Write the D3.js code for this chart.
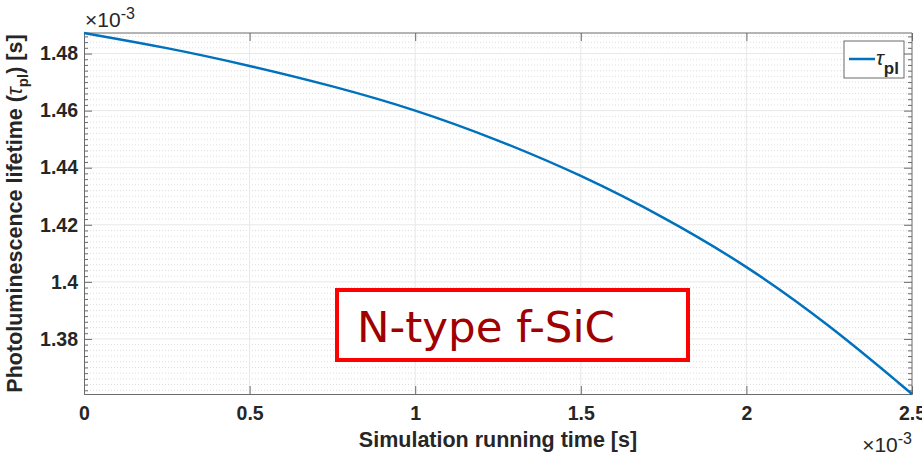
<!DOCTYPE html>
<html>
<head>
<meta charset="utf-8">
<script src="https://cdn.jsdelivr.net/npm/d3@7"></script>
<style>
  html, body { margin: 0; padding: 0; background: #fff; }
  svg { display: block; }
  .tick-label { font-family: "Liberation Sans", Arial, sans-serif; font-weight: bold; font-size: 19.5px; fill: #262626; }
  .axis-title { font-family: "Liberation Sans", Arial, sans-serif; font-weight: bold; font-size: 21.5px; fill: #262626; }
  .expo { font-family: "Liberation Sans", Arial, sans-serif; font-size: 21px; fill: #262626; }
</style>
</head>
<body>
<svg id="chart" width="922" height="455"></svg>
<script>
// simulation time, in units of 1e-3 s
const timeVals = [0, 0.25, 0.5, 0.75, 1.0, 1.25, 1.5, 1.75, 2.0, 2.25, 2.5];
// photoluminescence lifetime tau_pl, in units of 1e-3 s
const tauVals = [1.4872, 1.4821, 1.4758, 1.4687, 1.4604, 1.4498, 1.4375, 1.4228, 1.4058, 1.3850, 1.3607];

const xTicks = [0, 0.5, 1, 1.5, 2, 2.5];
const xTickLabels = ["0", "0.5", "1", "1.5", "2", "2.5"];
const yTicks = [1.38, 1.40, 1.42, 1.44, 1.46, 1.48];
const yTickLabels = ["1.38", "1.4", "1.42", "1.44", "1.46", "1.48"];

const svg = d3.select("#chart");
const L = 84, R = 912, T = 33, B = 394;

const x = d3.scaleLinear().domain([0, 2.5]).range([L, R]);
const y = d3.scaleLinear().domain([d3.min(tauVals), d3.max(tauVals)]).range([B, T]);

// minor grid (y only, dotted)
const yMinor = d3.range(1.362, 1.4872, 0.002).filter(v => !yTicks.some(t => Math.abs(t - v) < 1e-6));
svg.append("g").selectAll("line").data(yMinor).enter().append("line")
    .attr("x1", L).attr("x2", R)
    .attr("y1", d => y(d)).attr("y2", d => y(d))
    .attr("stroke", "#dedede").attr("stroke-width", 1)
    .attr("stroke-dasharray", "1,2");

// major grid
svg.append("g").selectAll("line").data(yTicks).enter().append("line")
    .attr("x1", L).attr("x2", R)
    .attr("y1", d => y(d)).attr("y2", d => y(d))
    .attr("stroke", "#e8e8e8").attr("stroke-width", 1);
svg.append("g").selectAll("line").data(xTicks.slice(1, -1)).enter().append("line")
    .attr("y1", T).attr("y2", B)
    .attr("x1", d => x(d)).attr("x2", d => x(d))
    .attr("stroke", "#e8e8e8").attr("stroke-width", 1);

// axes, ticks pointing inward
const axisColor = "#6b6b6b";
const xAxis = svg.append("g").attr("transform", `translate(0,${B})`)
    .call(d3.axisBottom(x).tickValues(xTicks).tickSize(-8).tickFormat((d, i) => xTickLabels[i]));
const xAxisTop = svg.append("g").attr("transform", `translate(0,${T})`)
    .call(d3.axisTop(x).tickValues(xTicks).tickSize(-8).tickFormat(""));
const yAxis = svg.append("g").attr("transform", `translate(${L},0)`)
    .call(d3.axisLeft(y).tickValues(yTicks).tickSize(-8).tickFormat((d, i) => yTickLabels[i]));
const yAxisRight = svg.append("g").attr("transform", `translate(${R},0)`)
    .call(d3.axisRight(y).tickValues(yTicks).tickSize(-8).tickFormat(""));
const yMinorL = svg.append("g").attr("transform", `translate(${L},0)`)
    .call(d3.axisLeft(y).tickValues(yMinor).tickSize(-4).tickFormat(""));
const yMinorR = svg.append("g").attr("transform", `translate(${R},0)`)
    .call(d3.axisRight(y).tickValues(yMinor).tickSize(-4).tickFormat(""));

[xAxis, xAxisTop, yAxis, yAxisRight, yMinorL, yMinorR].forEach(a => {
    a.select(".domain").attr("stroke", axisColor).attr("stroke-width", 1);
    a.selectAll(".tick line").attr("stroke", axisColor);
    a.selectAll(".tick text").attr("class", "tick-label").attr("font-family", null).attr("font-size", null);
});
[yMinorL, yMinorR, xAxisTop, yAxisRight].forEach(a => a.select(".domain").remove());
xAxis.selectAll(".tick text").attr("dy", null).attr("y", 26);
yAxis.selectAll(".tick text").attr("x", -6);

// box top/right
svg.append("line").attr("x1", L).attr("x2", R).attr("y1", T).attr("y2", T).attr("stroke", axisColor);
svg.append("line").attr("x1", R).attr("x2", R).attr("y1", T).attr("y2", B).attr("stroke", axisColor);

// curve
const line = d3.line()
    .x((d, i) => x(timeVals[i]))
    .y(d => y(d))
    .curve(d3.curveBasis);
svg.append("path").datum(tauVals)
    .attr("d", line)
    .attr("fill", "none")
    .attr("stroke", "#0072BD")
    .attr("stroke-width", 2.5);

// exponent labels
const expTop = svg.append("text").attr("class", "expo").attr("x", 85).attr("y", 27);
expTop.append("tspan").text("\u00d710");
expTop.append("tspan").attr("dy", -8).attr("font-size", 16).text("-3");
const expBot = svg.append("text").attr("class", "expo").attr("x", 912).attr("y", 452)
    .attr("text-anchor", "end");
expBot.append("tspan").text("\u00d710");
expBot.append("tspan").attr("dy", -8).attr("font-size", 16).text("-3");

// axis titles
svg.append("text").attr("class", "axis-title")
    .attr("x", (L + R) / 2).attr("y", 447)
    .attr("text-anchor", "middle")
    .text("Simulation running time [s]");

const yt = svg.append("text").attr("class", "axis-title")
    .attr("transform", `translate(22,${(T + B) / 2}) rotate(-90)`)
    .attr("text-anchor", "middle");
yt.append("tspan").text("Photoluminescence lifetime (");
yt.append("tspan").attr("font-style", "italic").attr("font-weight", "normal").text("\u03c4");
yt.append("tspan").attr("dy", 6).attr("font-size", 15).text("pl");
yt.append("tspan").attr("dy", -6).text(") [s]");

// legend
const lg = svg.append("g");
lg.append("rect").attr("x", 844).attr("y", 41).attr("width", 60).attr("height", 37)
    .attr("fill", "#fff").attr("stroke", "#6b6b6b").attr("stroke-width", 1);
lg.append("line").attr("x1", 849).attr("x2", 875).attr("y1", 59).attr("y2", 59)
    .attr("stroke", "#0072BD").attr("stroke-width", 2.5);
const lt = lg.append("text").attr("class", "axis-title").attr("x", 876).attr("y", 65);
lt.append("tspan").attr("font-style", "italic").attr("font-weight", "normal").attr("font-size", 21).text("\u03c4");
lt.append("tspan").attr("dy", 9).attr("font-size", 17).text("pl");

// annotation box
svg.append("rect").attr("x", 337).attr("y", 290).attr("width", 351).attr("height", 70)
    .attr("fill", "#fff").attr("stroke", "#ff0000").attr("stroke-width", 4);
svg.append("text").attr("x", 357).attr("y", 342)
    .attr("font-family", "'DejaVu Sans', Verdana, sans-serif")
    .attr("font-size", 43.5).attr("fill", "#a00000")
    .text("N-type f-SiC");
</script>
</body>
</html>
